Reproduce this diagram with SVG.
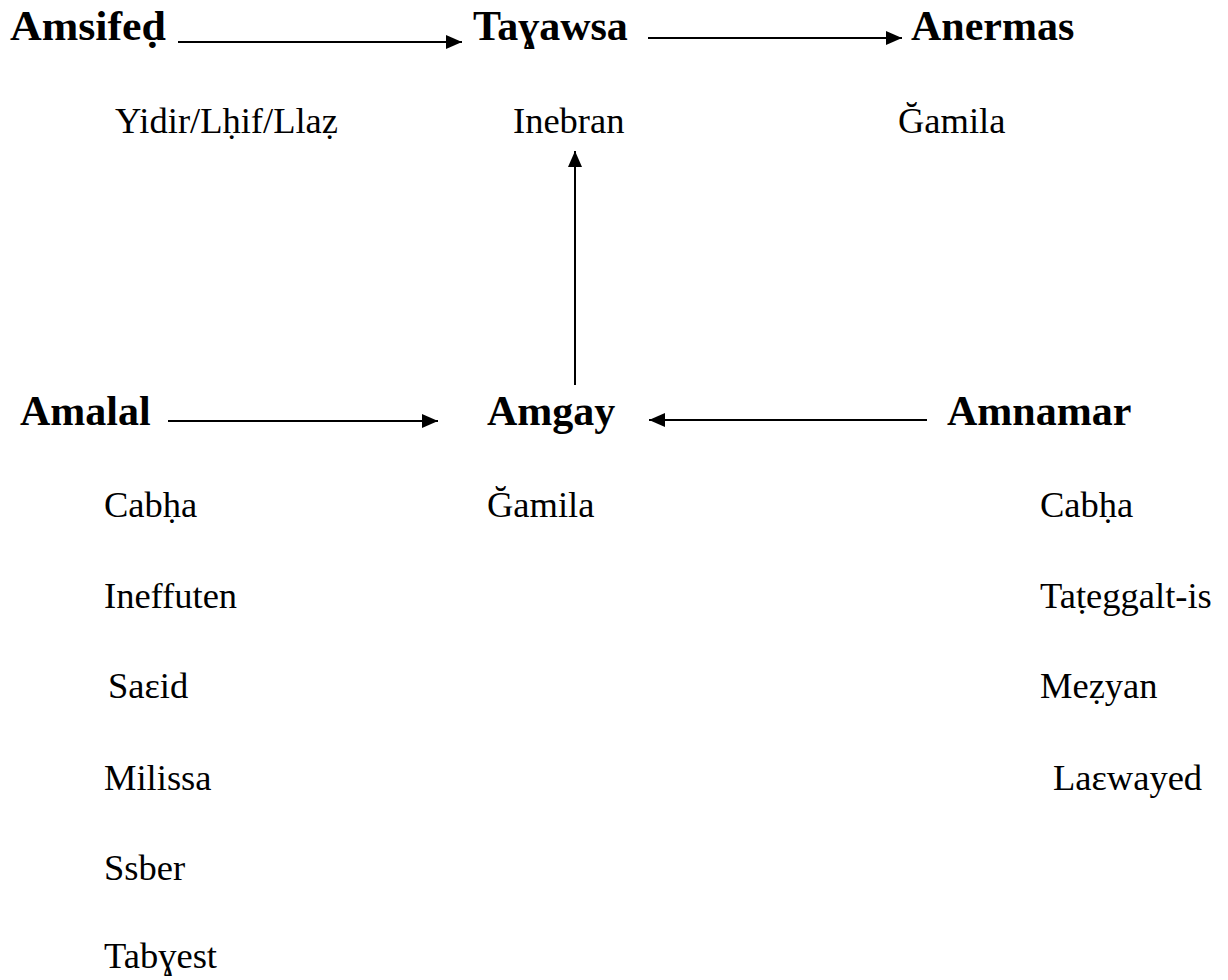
<svg xmlns="http://www.w3.org/2000/svg" width="1228" height="980" viewBox="0 0 1228 980">
<style>
.b{font-family:"Liberation Serif","Times New Roman",serif;font-weight:bold;font-size:42px;fill:#000}
.r{font-family:"Liberation Serif","Times New Roman",serif;font-size:36.5px;fill:#000}
.c{stroke:#000;stroke-width:2;fill:none}
</style>
<defs>
<marker id="ah" viewBox="0 0 16 14" refX="16" refY="7" markerWidth="16" markerHeight="14" markerUnits="userSpaceOnUse" orient="auto">
<path d="M0,0 L16,7 L0,14 z" fill="#000"/>
</marker>
</defs>
<rect width="1228" height="980" fill="#fff"/>
<g id="connectors">
<line class="c" x1="178" y1="42" x2="462" y2="42" marker-end="url(#ah)"/>
<line class="c" x1="648" y1="38" x2="902" y2="38" marker-end="url(#ah)"/>
<line class="c" x1="575" y1="385" x2="575" y2="151" marker-end="url(#ah)"/>
<line class="c" x1="168" y1="421" x2="438" y2="421" marker-end="url(#ah)"/>
<line class="c" x1="927" y1="420" x2="649" y2="420" marker-end="url(#ah)"/>
</g>
<g id="amsifed"><text class="b" x="10" y="40" textLength="156" lengthAdjust="spacingAndGlyphs">Amsifeḍ</text><text class="r" x="115" y="133">Yidir/Lḥif/Llaẓ</text></g>
<g id="tagawsa"><text class="b" x="473" y="40">Taɣawsa</text><text class="r" x="513" y="133">Inebran</text></g>
<g id="anermas"><text class="b" x="911" y="40">Anermas</text><text class="r" x="898" y="133">Ğamila</text></g>
<g id="amalal"><text class="b" x="20" y="425">Amalal</text>
<text class="r" x="104" y="517">Cabḥa</text>
<text class="r" x="104" y="608">Ineffuten</text>
<text class="r" x="108" y="698">Saɛid</text>
<text class="r" x="104" y="790">Milissa</text>
<text class="r" x="104" y="880">Ssber</text>
<text class="r" x="104" y="968">Tabɣest</text></g>
<g id="amgay"><text class="b" x="487" y="425">Amgay</text><text class="r" x="487" y="517">Ğamila</text></g>
<g id="amnamar"><text class="b" x="947" y="425">Amnamar</text>
<text class="r" x="1040" y="517">Cabḥa</text>
<text class="r" x="1040" y="608">Taṭeggalt-is</text>
<text class="r" x="1040" y="698">Meẓyan</text>
<text class="r" x="1053" y="790">Laɛwayed</text></g>
</svg>
